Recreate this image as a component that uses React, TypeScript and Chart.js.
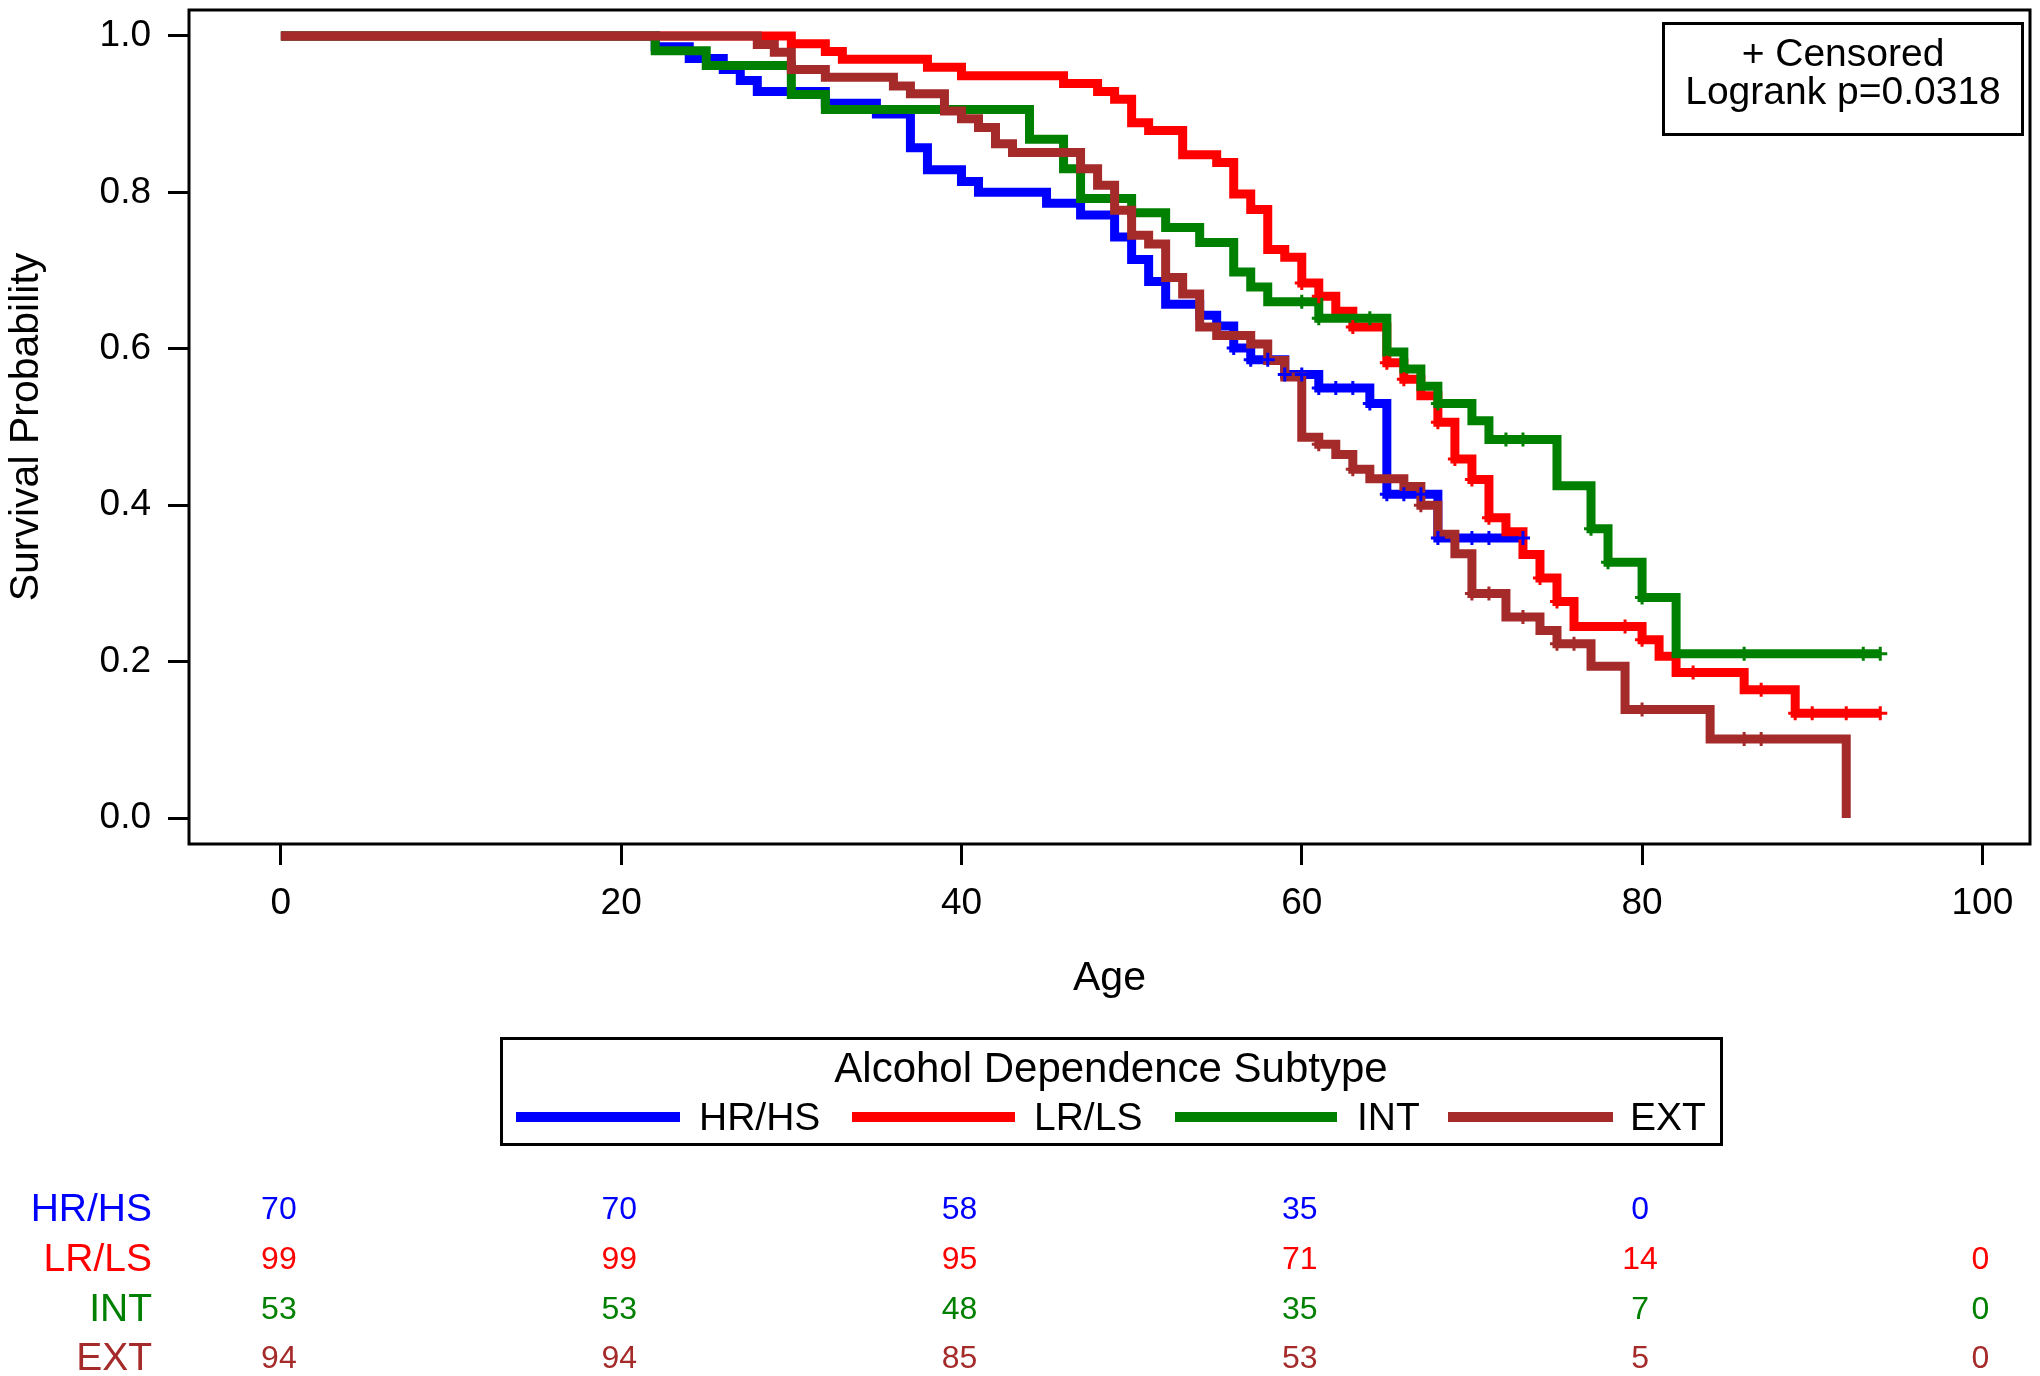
import React, { useEffect, useRef } from "react";
import { Chart, registerables } from "chart.js";

Chart.register(...registerables);

const FONT = '"Liberation Sans", Arial, Helvetica, sans-serif';

const groupNames = ["HR/HS", "LR/LS", "INT", "EXT"];
const groupColors = ["#0000FF", "#FF0000", "#008000", "#A52A2A"];

// HR/HS
const hrTimes = [0, 22, 24, 26, 27, 28, 32, 35, 37, 38, 40, 41, 45, 47, 49, 50, 51, 52, 54, 55, 56, 57, 59, 61, 64, 65, 68];
const hrSurv = [1, 0.986, 0.971, 0.957, 0.943, 0.929, 0.914, 0.9, 0.857, 0.829, 0.814, 0.8, 0.786, 0.771, 0.743, 0.714, 0.686, 0.657, 0.643, 0.629, 0.601, 0.586, 0.567, 0.55, 0.53, 0.414, 0.358];
const hrLastAge = 73;
const hrCensored = [56, 57, 58, 59, 60, 61, 62, 63, 64, 65, 66, 67, 68, 70, 71, 73];

// LR/LS
const lrTimes = [0, 30, 32, 33, 38, 40, 46, 48, 49, 50, 51, 53, 55, 56, 57, 58, 59, 60, 61, 62, 63, 65, 66, 67, 68, 69, 70, 71, 72, 73, 74, 75, 76, 80, 81, 82, 86, 89];
const lrSurv = [1, 0.99, 0.98, 0.97, 0.96, 0.949, 0.939, 0.929, 0.919, 0.889, 0.879, 0.848, 0.838, 0.798, 0.778, 0.727, 0.717, 0.684, 0.667, 0.648, 0.628, 0.582, 0.561, 0.54, 0.506, 0.459, 0.433, 0.384, 0.366, 0.337, 0.307, 0.277, 0.245, 0.228, 0.207, 0.186, 0.164, 0.134];
const lrLastAge = 94;
const lrCensored = [60, 61, 63, 65, 66, 68, 69, 70, 71, 74, 75, 79, 80, 83, 87, 89, 90, 92, 94];

// INT
const intTimes = [0, 22, 25, 30, 32, 44, 46, 47, 50, 52, 54, 56, 57, 58, 61, 65, 66, 67, 68, 70, 71, 75, 77, 78, 80, 82];
const intSurv = [1, 0.981, 0.962, 0.925, 0.906, 0.868, 0.83, 0.792, 0.774, 0.755, 0.736, 0.698, 0.679, 0.66, 0.639, 0.596, 0.574, 0.552, 0.53, 0.508, 0.484, 0.425, 0.37, 0.327, 0.282, 0.21];
const intLastAge = 94;
const intCensored = [60, 61, 64, 68, 72, 73, 77, 78, 80, 86, 93, 94];

// EXT
const extTimes = [0, 28, 29, 30, 32, 36, 37, 39, 40, 41, 42, 43, 47, 48, 49, 50, 51, 52, 53, 54, 55, 57, 58, 59, 60, 61, 62, 63, 64, 66, 67, 68, 69, 70, 72, 74, 75, 77, 79, 84, 92];
const extSurv = [1, 0.989, 0.979, 0.957, 0.947, 0.936, 0.926, 0.904, 0.894, 0.883, 0.862, 0.851, 0.83, 0.809, 0.777, 0.745, 0.734, 0.691, 0.67, 0.628, 0.617, 0.606, 0.585, 0.564, 0.487, 0.478, 0.465, 0.446, 0.434, 0.424, 0.4, 0.363, 0.338, 0.287, 0.257, 0.24, 0.223, 0.194, 0.139, 0.101, 0];
const extLastAge = 92;
const extCensored = [61, 63, 67, 70, 71, 73, 75, 76, 80, 86, 87];

// Number at risk table
const riskAges = [0, 20, 40, 60, 80, 100];
const hrAtRisk = [70, 70, 58, 35, 0, null];
const lrAtRisk = [99, 99, 95, 71, 14, 0];
const intAtRisk = [53, 53, 48, 35, 7, 0];
const extAtRisk = [94, 94, 85, 53, 5, 0];

// Axis ticks
const xTickValues = [0, 20, 40, 60, 80, 100];
const yTickValues = [0, 0.2, 0.4, 0.6, 0.8, 1.0];

const groupTimes = [hrTimes, lrTimes, intTimes, extTimes];
const groupSurv = [hrSurv, lrSurv, intSurv, extSurv];
const groupLast = [hrLastAge, lrLastAge, intLastAge, extLastAge];
const groupCensored = [hrCensored, lrCensored, intCensored, extCensored];
const groupRisk = [hrAtRisk, lrAtRisk, intAtRisk, extAtRisk];

function stepPoints(times: number[], surv: number[], last: number) {
  const pts = times.map((t, i) => ({ x: t, y: surv[i] }));
  if (last > times[times.length - 1]) pts.push({ x: last, y: surv[surv.length - 1] });
  return pts;
}

function survAt(times: number[], surv: number[], t: number) {
  let v = surv[0];
  for (let i = 0; i < times.length; i++) if (times[i] <= t) v = surv[i];
  return v;
}

const LEGEND_ENTRIES = [
  { line: [516, 680], text: 699 },
  { line: [852, 1015], text: 1034 },
  { line: [1175, 1337], text: 1357 },
  { line: [1448, 1613], text: 1630 },
];
const RISK_ROWS_Y = [1210, 1260, 1310, 1359];

const decorPlugin = {
  id: "kmDecor",
  afterDraw(chart: any) {
    const { ctx, chartArea: a, scales } = chart;
    ctx.save();
    ctx.strokeStyle = "#000";
    ctx.lineWidth = 3;
    ctx.strokeRect(a.left, a.top, a.right - a.left, a.bottom - a.top);

    // inset box
    ctx.strokeRect(1663.5, 23.5, 359, 111);
    ctx.fillStyle = "#000";
    ctx.textAlign = "center";
    ctx.textBaseline = "middle";
    ctx.font = `39px ${FONT}`;
    ctx.fillText("+ Censored", 1843, 55);
    ctx.fillText("Logrank p=0.0318", 1843, 93);

    // legend
    ctx.strokeRect(501.5, 1038.5, 1220, 106);
    ctx.font = `42px ${FONT}`;
    ctx.fillText("Alcohol Dependence Subtype", 1111, 1070);
    ctx.font = `39px ${FONT}`;
    ctx.textAlign = "left";
    LEGEND_ENTRIES.forEach((e, i) => {
      ctx.strokeStyle = groupColors[i];
      ctx.lineWidth = 10;
      ctx.beginPath();
      ctx.moveTo(e.line[0], 1117);
      ctx.lineTo(e.line[1], 1117);
      ctx.stroke();
      ctx.fillStyle = "#000";
      ctx.fillText(groupNames[i], e.text, 1119);
    });

    // risk table
    const xs = scales.x;
    groupNames.forEach((name, r) => {
      const y = RISK_ROWS_Y[r];
      ctx.fillStyle = groupColors[r];
      ctx.font = `39px ${FONT}`;
      ctx.textAlign = "right";
      ctx.fillText(name, 152, y);
      ctx.font = `32px ${FONT}`;
      ctx.textAlign = "center";
      riskAges.forEach((age, k) => {
        const v = groupRisk[r][k];
        if (v === null || v === undefined) return;
        ctx.fillText(String(v), xs.getPixelForValue(age) - 2, y);
      });
    });
    ctx.restore();
  },
};

export default function App() {
  const ref = useRef<HTMLCanvasElement>(null);
  useEffect(() => {
    const lineDatasets = groupNames.map((name, g) => ({
      type: "line" as const,
      label: name,
      data: stepPoints(groupTimes[g], groupSurv[g], groupLast[g]),
      borderColor: groupColors[g],
      backgroundColor: groupColors[g],
      borderWidth: 9,
      stepped: "before" as const,
      pointRadius: 0,
      fill: false,
      order: 4 - g,
    }));
    const censorDatasets = groupNames.map((name, g) => ({
      type: "scatter" as const,
      label: name + " censored",
      data: groupCensored[g].map((t) => ({ x: t, y: survAt(groupTimes[g], groupSurv[g], t) })),
      borderColor: groupColors[g],
      backgroundColor: groupColors[g],
      pointStyle: "cross" as const,
      pointRadius: 7,
      borderWidth: 3,
      order: 0,
    }));

    const tickGrid = {
      drawOnChartArea: false,
      drawTicks: true,
      tickLength: 21,
      tickWidth: 3,
      tickColor: "#000",
    };

    const chart = new Chart(ref.current as HTMLCanvasElement, {
      type: "line",
      data: { datasets: [...lineDatasets, ...censorDatasets] as any },
      options: {
        responsive: false,
        animation: false,
        devicePixelRatio: 1,
        layout: { padding: { left: 0, top: 7, right: 7, bottom: 372 } },
        plugins: { legend: { display: false }, tooltip: { enabled: false } },
        scales: {
          x: {
            type: "linear",
            min: -5.4,
            max: 102.8,
            afterBuildTicks: (s: any) => {
              s.ticks = xTickValues.map((v) => ({ value: v }));
            },
            afterFit: (s: any) => {
              s.height = 160;
              s.paddingLeft = 0;
              s.paddingRight = 0;
            },
            grid: tickGrid,
            border: { display: false },
            ticks: {
              font: { family: FONT, size: 37 },
              color: "#000",
              padding: 17,
              maxRotation: 0,
              autoSkip: false,
            },
            title: {
              display: true,
              text: "Age",
              font: { family: FONT, size: 41 },
              color: "#000",
              padding: { top: 0, bottom: 1 },
            },
          },
          y: {
            type: "linear",
            min: -0.0331,
            max: 1.0331,
            afterBuildTicks: (s: any) => {
              s.ticks = yTickValues.map((v) => ({ value: v }));
            },
            afterFit: (s: any) => {
              s.width = 189;
              s.paddingTop = 0;
              s.paddingBottom = 0;
            },
            grid: tickGrid,
            border: { display: false },
            ticks: {
              font: { family: FONT, size: 37 },
              color: "#000",
              padding: 17,
              callback: (v: any) => Number(v).toFixed(1),
            },
            title: {
              display: true,
              text: "Survival Probability",
              font: { family: FONT, size: 41 },
              color: "#000",
              padding: { top: 2, bottom: 0 },
            },
          },
        },
      },
      plugins: [decorPlugin],
    } as any);
    return () => chart.destroy();
  }, []);

  return (
    <div style={{ position: "absolute", left: 0, top: 0, width: 2040, height: 1376, background: "#fff" }}>
      <canvas ref={ref} width={2040} height={1376} style={{ width: 2040, height: 1376, display: "block" }} />
    </div>
  );
}
